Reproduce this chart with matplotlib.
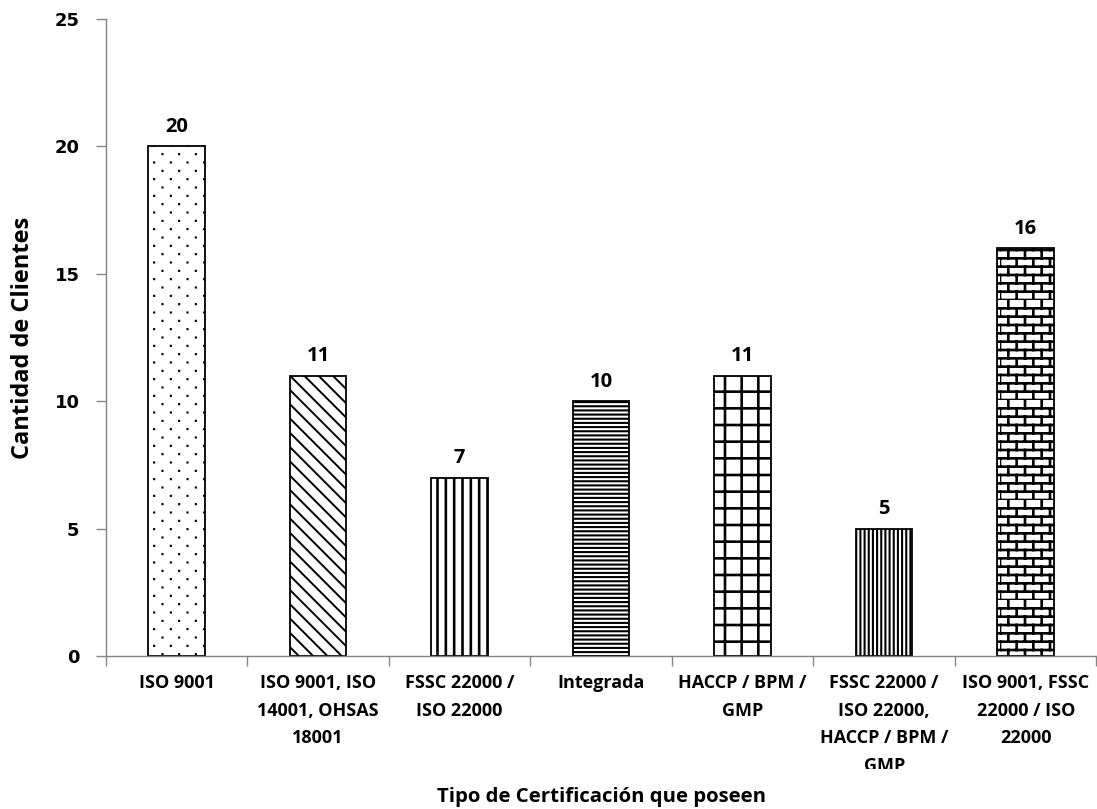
import warnings
import numpy as np
import matplotlib
matplotlib.use("Agg")
import matplotlib.pyplot as plt
import matplotlib.hatch as mhatch
from matplotlib.path import Path
from matplotlib.transforms import Bbox, TransformedBbox

warnings.filterwarnings("ignore")

# ---- data -------------------------------------------------------------
categories = [
    "ISO 9001",
    "ISO 9001, ISO\n14001, OHSAS\n18001",
    "FSSC 22000 /\nISO 22000",
    "Integrada",
    "HACCP / BPM /\nGMP",
    "FSSC 22000 /\nISO 22000,\nHACCP / BPM /\nGMP",
    "ISO 9001, FSSC\n22000 / ISO\n22000",
]
values = [20, 11, 7, 10, 11, 5, 16]
hatches = [":", "d", "||", "----", "+", "||||", "b"]
y_ticks = [0, 5, 10, 15, 20, 25]


# ---- extra hatch patterns ----------------------------------------------
class StaggeredDots(mhatch.HatchPatternBase):
    """Tiny square dots on a staggered lattice: rows twice as dense as columns."""

    def __init__(self, hatch, density):
        n = hatch.count(":")
        self.rows = 12 * n
        self.cols = 6 * n
        self.num_vertices = self.rows * self.cols * 5 if n else 0

    def set_vertices_and_codes(self, vertices, codes):
        s = 0.003
        k = 0
        for r in range(self.rows):
            y = (r + 0.5) / self.rows
            shift = 0.5 if r % 2 else 0.0
            for c in range(self.cols):
                x = (c + 0.25 + shift) / self.cols
                sq = [(x - s, y - s), (x + s, y - s), (x + s, y + s), (x - s, y + s), (x - s, y - s)]
                vertices[k:k + 5] = sq
                codes[k:k + 5] = [Path.MOVETO, Path.LINETO, Path.LINETO, Path.LINETO, Path.CLOSEPOLY]
                k += 5


class DenseBackDiagonal(mhatch.HatchPatternBase):
    """Lines falling to the right, 14 per unit cell."""

    def __init__(self, hatch, density):
        self.num_lines = 14 * hatch.count("d")
        self.num_vertices = (self.num_lines + 1) * 2 if self.num_lines else 0

    def set_vertices_and_codes(self, vertices, codes):
        steps = np.linspace(-0.5, 0.5, self.num_lines + 1)
        vertices[0::2, 0] = 0.0 + steps
        vertices[0::2, 1] = 1.0 + steps
        vertices[1::2, 0] = 1.0 + steps
        vertices[1::2, 1] = 0.0 + steps
        codes[0::2] = Path.MOVETO
        codes[1::2] = Path.LINETO


class BrickHatch(mhatch.HatchPatternBase):
    """Running-bond brick wall."""

    def __init__(self, hatch, density):
        n = hatch.count("b")
        self.rows = 12 * n
        self.cols = 6 * n
        self.num_vertices = (2 * self.rows + 2 * self.rows * self.cols) if n else 0

    def set_vertices_and_codes(self, vertices, codes):
        k = 0
        h = 1.0 / self.rows
        for r in range(self.rows):
            y = r * h
            vertices[k] = (0.0, y)
            vertices[k + 1] = (1.0, y)
            codes[k] = Path.MOVETO
            codes[k + 1] = Path.LINETO
            k += 2
        for r in range(self.rows):
            y0 = r * h
            shift = 0.5 if r % 2 else 0.0
            for c in range(self.cols):
                x = (c + shift) / self.cols
                vertices[k] = (x, y0)
                vertices[k + 1] = (x, y0 + h)
                codes[k] = Path.MOVETO
                codes[k + 1] = Path.LINETO
                k += 2


mhatch._hatch_types.extend([StaggeredDots, DenseBackDiagonal, BrickHatch])

hatch_widths = [1.1, 1.4, 1.9, 1.5, 1.9, 1.5, 1.9]

# ---- figure -----------------------------------------------------------
plt.rcParams["hatch.color"] = "black"
plt.rcParams["hatch.linewidth"] = 1.5

fig = plt.figure(figsize=(10.97, 8.09), dpi=100)
ax = fig.add_axes([0.0965, 0.189, 0.903, 0.7875])

x = np.arange(len(categories))
for xi, v, h, lw in zip(x, values, hatches, hatch_widths):
    with plt.rc_context({"hatch.linewidth": lw}):
        b = ax.bar(xi, v, width=0.40, facecolor="white", edgecolor="black",
                   linewidth=1.3, hatch=h, zorder=2)
    for p in b.patches:
        if hasattr(p, "set_hatch_linewidth"):
            p.set_hatch_linewidth(lw)

label_font = ["Open Sans", "DejaVu Sans"]

for xi, v in zip(x, values):
    ax.text(xi, v + 0.38, str(v), ha="center", va="bottom",
            fontsize=14.5, fontweight="bold", family=label_font)

ax.set_xlim(-0.5, len(categories) - 0.5)
ax.set_ylim(0, 25)
ax.set_yticks(y_ticks)
ax.set_yticklabels([str(t) for t in y_ticks], fontsize=13, fontweight="bold",
                   family="DejaVu Sans")

ax.set_xticks(x)
ax.set_xticklabels(categories, fontsize=13, fontweight="bold",
                   family=label_font, linespacing=1.68, va="top")
ax.set_xticks(np.arange(len(categories) + 1) - 0.5, minor=True)
ax.tick_params(axis="x", which="major", length=0, pad=13)
ax.tick_params(axis="x", which="minor", length=7, color="#868686", width=1)
ax.tick_params(axis="y", length=7, color="#868686", width=1, pad=12)

for side in ("top", "right"):
    ax.spines[side].set_visible(False)
for side in ("left", "bottom"):
    ax.spines[side].set_color("#868686")
    ax.spines[side].set_linewidth(1)

ax.set_ylabel("Cantidad de Clientes", fontsize=17, fontweight="bold",
              family=label_font, va="center")
ax.yaxis.set_label_coords(-0.084, 0.5)
ax.set_xlabel("Tipo de Certificación que poseen", fontsize=14.7, fontweight="bold",
              family=label_font, va="center")
ax.xaxis.set_label_coords(0.5, -0.2214)

# the category-label band ends just above the axis title
clip = TransformedBbox(Bbox([[0, 0.0495], [1, 1]]), fig.transFigure)
for lab in ax.get_xticklabels():
    lab.set_clip_box(clip)
    lab.set_clip_on(True)

fig.savefig("out.png", dpi=100)
